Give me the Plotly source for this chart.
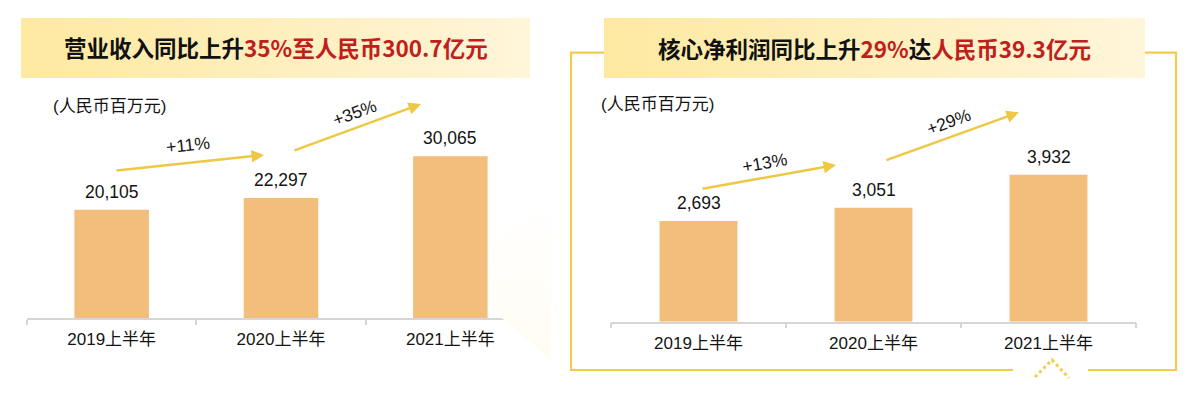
import plotly.graph_objects as go

# ---------------- data ----------------
categories = ["2019上半年", "2020上半年", "2021上半年"]
revenue = [20105, 22297, 30065]          # 营业收入 (人民币百万元)
core_profit = [2693, 3051, 3932]         # 核心净利润 (人民币百万元)
revenue_growth = ["+11%", "+35%"]
profit_growth = ["+13%", "+29%"]
unit_label = "(人民币百万元)"
title_left_parts = [("营业收入同比上升", "black"), ("35%至人民币300.7亿元", "red")]
title_right_parts = [("核心净利润同比上升", "black"), ("29%", "red"), ("达", "black"),
                     ("人民币39.3亿元", "red")]

# ---------------- style ----------------
W, H = 1200, 394
FONT = "Liberation Sans, Arial, Noto Sans CJK SC, sans-serif"
TITLE_FONT = "Noto Sans CJK SC, Liberation Sans, sans-serif"
BAR = "#F3BD7B"
ARROW = "#EEC844"
BORDER = "#F2CC4C"
AXIS = "#D6D6D6"
RED = "#C0201C"
TXT = "#141414"
COLORS = {"black": "#111111", "red": RED}


def px_x(x):
    return x / W


def px_y(y):
    return (H - y) / H


def title_html(parts):
    return "<b>" + "".join(
        f"<span style='color:{COLORS[c]}'>{t}</span>" for t, c in parts) + "</b>"


fig = go.Figure()

# bars
fig.add_trace(go.Bar(x=categories, y=revenue, marker=dict(color=BAR, line=dict(width=0)),
                     width=0.44, xaxis="x", yaxis="y", hoverinfo="skip"))
fig.add_trace(go.Bar(x=categories, y=core_profit, marker=dict(color=BAR, line=dict(width=0)),
                     width=0.445, xaxis="x2", yaxis="y2", hoverinfo="skip"))

# decorative layer on a pixel-space overlay axis
def box(x0, y0, x1, y1):
    return [x0, x1, x1, x0, x0], [y0, y0, y1, y1, y0]

for (x0, x1) in [(21, 530), (604, 1145)]:
    bx, by = box(x0, 18, x1, 78)
    fig.add_trace(go.Scatter(x=bx, y=by, mode="lines", fill="toself", line=dict(width=0),
                             fillgradient=dict(type="horizontal",
                                               colorscale=[[0, "#FDE9A0"], [1, "#FFF5DA"]]),
                             xaxis="x3", yaxis="y3", hoverinfo="skip", showlegend=False))

# faint page-fold shading
fig.add_trace(go.Scatter(x=[492, 551, 551, 490, 492], y=[250, 190, 360, 308, 250], mode="lines",
                         fill="toself", line=dict(width=0),
                         fillgradient=dict(type="vertical",
                                           colorscale=[[0, "#FFFCF3"], [1, "#FFFFFF"]]),
                         xaxis="x3", yaxis="y3", hoverinfo="skip", showlegend=False))

shapes = [
    dict(type="path", xref="x3", yref="y3",
         path="M 604 52.7 L 571 52.7 L 571 370 L 1013 370",
         line=dict(color=BORDER, width=2.2)),
    dict(type="path", xref="x3", yref="y3",
         path="M 1088 370 L 1176 370 L 1176 52.7 L 1145 52.7",
         line=dict(color=BORDER, width=2.2)),
    dict(type="path", xref="x3", yref="y3",
         path="M 1035 377 L 1052 360 L 1069 378",
         line=dict(color=BORDER, width=3, dash="dot")),
]

annotations = []

# titles
annotations.append(dict(xref="x3", yref="y3", x=276, y=47, text=title_html(title_left_parts),
                        showarrow=False, font=dict(family=TITLE_FONT, size=22.5, color="#111")))
annotations.append(dict(xref="x3", yref="y3", x=874, y=48, text=title_html(title_right_parts),
                        showarrow=False, font=dict(family=TITLE_FONT, size=22.5, color="#111")))

# unit labels
for cx, cy in [(109, 106.7), (657, 104)]:
    annotations.append(dict(xref="x3", yref="y3", x=cx, y=cy, text=unit_label, showarrow=False,
                            font=dict(family=FONT, size=17, color=TXT)))

# value labels above bars
for xa, ya, vals in [("x", "y", revenue), ("x2", "y2", core_profit)]:
    for c, v in zip(categories, vals):
        annotations.append(dict(xref=xa, yref=ya, x=c, y=v, text=f"{v:,}", showarrow=False,
                                yanchor="middle", yshift=18,
                                font=dict(family=FONT, size=17.5, color=TXT)))

# growth arrows (tail -> tip) and rotated labels
arrow_geo = [
    # tail, tip, label center, angle
    ((115, 170.7), (264, 155), (188, 145), -6),
    ((293, 151), (421, 104), (354, 113), -20),
    ((701, 189), (836, 165), (764, 162.5), -10),
    ((885, 160.7), (1019, 112.3), (948, 121.5), -20),
]
growth_labels = revenue_growth + profit_growth
for (tail, tip, lab, ang), g in zip(arrow_geo, growth_labels):
    annotations.append(dict(xref="x3", yref="y3", x=tip[0], y=tip[1],
                            axref="x3", ayref="y3", ax=tail[0], ay=tail[1],
                            text="", showarrow=True, arrowhead=2, arrowsize=1,
                            arrowwidth=2.5, arrowcolor=ARROW, standoff=0))
    annotations.append(dict(xref="x3", yref="y3", x=lab[0], y=lab[1], text=g, showarrow=False,
                            textangle=ang, font=dict(family=FONT, size=17.5, color=TXT)))

xcommon = dict(showline=True, linecolor=AXIS, linewidth=1.5, ticks="outside",
               tickson="boundaries", ticklen=5, tickwidth=1.5, tickcolor=AXIS,
               showgrid=False, zeroline=False, fixedrange=True, ticklabelstandoff=5,
               tickfont=dict(family=FONT, size=17, color=TXT))

fig.update_layout(
    width=W, height=H,
    margin=dict(l=0, r=0, t=0, b=0),
    paper_bgcolor="white", plot_bgcolor="rgba(0,0,0,0)",
    showlegend=False,
    xaxis=dict(domain=[px_x(27), px_x(535)], anchor="y", **xcommon),
    yaxis=dict(domain=[px_y(318), px_y(60)], range=[0, 258 * 185.8], visible=False,
               fixedrange=True),
    xaxis2=dict(domain=[px_x(611), px_x(1136)], anchor="y2", **xcommon),
    yaxis2=dict(domain=[px_y(321.7), px_y(60)], range=[0, 261.7 * 26.75], visible=False,
                fixedrange=True),
    xaxis3=dict(domain=[0, 1], range=[0, W], anchor="y3", visible=False, fixedrange=True),
    yaxis3=dict(domain=[0, 1], range=[H, 0], anchor="x3", visible=False, fixedrange=True),
    shapes=shapes,
    annotations=annotations,
)

fig.write_html("out.html", config={"displayModeBar": False},
               post_script="document.body.style.margin='0';")
